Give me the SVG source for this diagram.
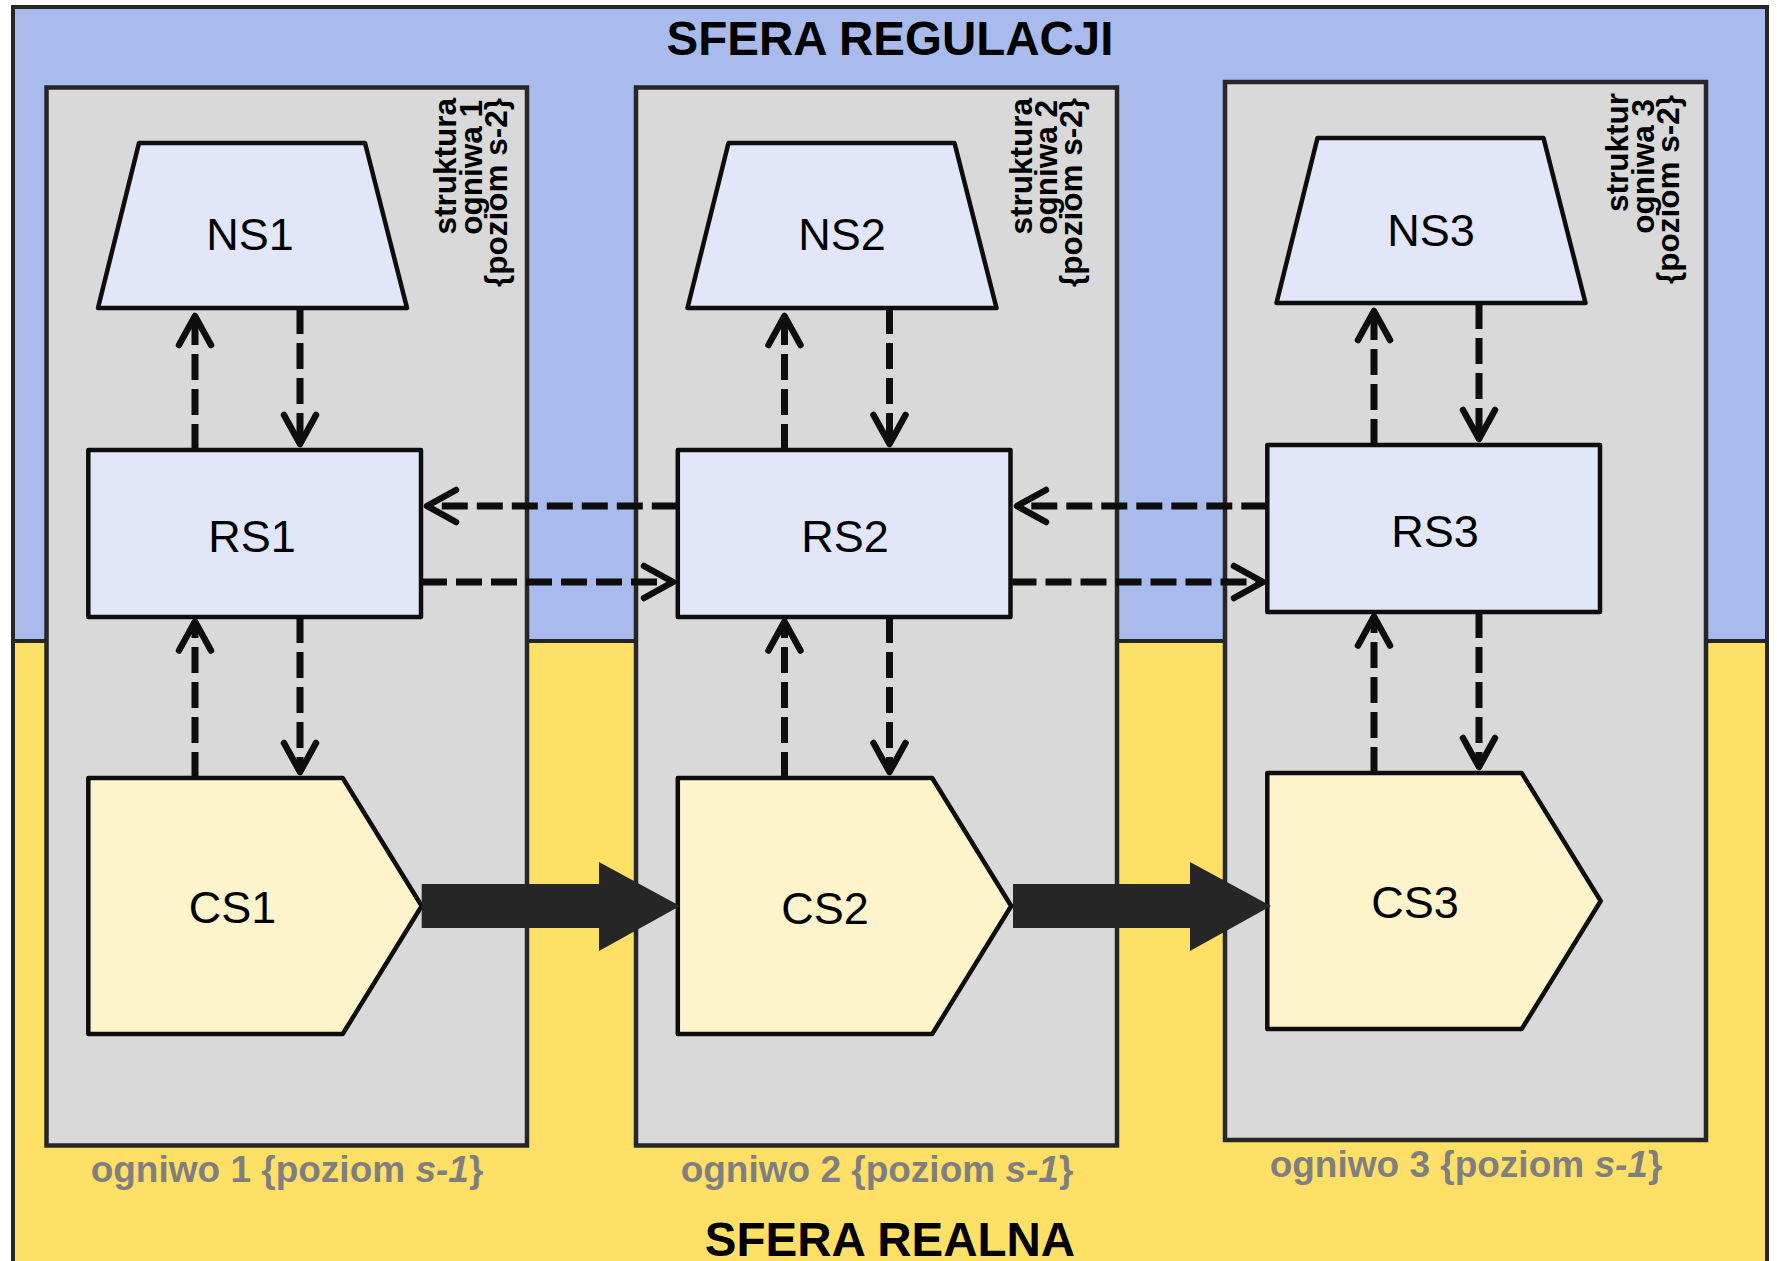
<svg xmlns="http://www.w3.org/2000/svg" width="1777" height="1261" viewBox="0 0 1777 1261">
<defs>
<style>
.box{fill:#d9d9d9;stroke:#262626;stroke-width:4.5}
.ns{fill:#e1e7f8;stroke:#0d0d0d;stroke-width:4.5;stroke-linejoin:round}
.cs{fill:#fef4cc;stroke:#0d0d0d;stroke-width:4.5;stroke-linejoin:round}
.lbl{font-family:"Liberation Sans",Arial,sans-serif;font-size:45px;fill:#000;text-anchor:middle}
.title{font-family:"Liberation Sans",Arial,sans-serif;font-size:47.5px;font-weight:bold;fill:#000;text-anchor:middle}
.og{font-family:"Liberation Sans",Arial,sans-serif;font-size:37px;font-weight:bold;fill:#7f7f7f;text-anchor:middle}
.vt{font-family:"Liberation Sans",Arial,sans-serif;font-size:31.5px;font-weight:bold;fill:#000;text-anchor:end}
.dash{fill:none;stroke:#0d0d0d;stroke-width:7;stroke-dasharray:26 9;marker-end:url(#open)}
.fat{fill:#262626}
</style>
<marker id="open" markerUnits="userSpaceOnUse" viewBox="-40 -25 50 50" refX="0" refY="0" markerWidth="50" markerHeight="50" orient="auto" overflow="visible">
<path d="M -29 -16 L 0 0 L -29 16" fill="none" stroke="#0d0d0d" stroke-width="6.5" stroke-linecap="round" stroke-linejoin="round"/>
</marker>
</defs>

<g id="background">
<rect x="13" y="7" width="1754" height="634" fill="#a9bbec" stroke="#262626" stroke-width="4"/>
<rect x="13" y="641" width="1754" height="700" fill="#ffe066" stroke="#262626" stroke-width="4"/>
<line x1="13" y1="641" x2="1767" y2="641" stroke="#262626" stroke-width="1.5"/>
<text class="title" x="890" y="54.5">SFERA REGULACJI</text>
<text class="title" x="890" y="1256">SFERA REALNA</text>
</g>

<g id="ogniwo1">
<rect class="box" x="46.5" y="87.5" width="480.5" height="1058"/>
<text class="vt" transform="rotate(-90)"><tspan x="-98" y="456">struktura</tspan><tspan x="-100" y="481.5">ogniwa 1</tspan><tspan x="-98" y="506.5">{poziom  s-2}</tspan></text>
<text class="og" x="287" y="1182">ogniwo 1 {poziom <tspan font-style="italic">s-1</tspan>}</text>
</g>
<g id="ogniwo2">
<rect class="box" x="636" y="87.5" width="481" height="1058"/>
<text class="vt" transform="rotate(-90)"><tspan x="-98" y="1031.5">struktura</tspan><tspan x="-100" y="1057">ogniwa 2</tspan><tspan x="-98" y="1082">{poziom  s-2}</tspan></text>
<text class="og" x="877" y="1182">ogniwo 2 {poziom <tspan font-style="italic">s-1</tspan>}</text>
</g>
<g id="ogniwo3">
<rect class="box" x="1225" y="82" width="481" height="1058"/>
<text class="vt" transform="rotate(-90)"><tspan x="-93" y="1628">struktur</tspan><tspan x="-99" y="1653.5">ogniwa 3</tspan><tspan x="-95" y="1678.5">{poziom  s-2}</tspan></text>
<text class="og" x="1466" y="1177">ogniwo 3 {poziom <tspan font-style="italic">s-1</tspan>}</text>
</g>

<g id="NS1"><polygon class="ns" points="139,143 365,143 407,308 98,308"/><text class="lbl" x="250" y="250">NS1</text></g>
<g id="NS2"><polygon class="ns" points="728.5,143 954.5,143 996.5,308 687.5,308"/><text class="lbl" x="842" y="250">NS2</text></g>
<g id="NS3"><polygon class="ns" points="1317.5,138 1543.5,138 1585.5,303 1276.5,303"/><text class="lbl" x="1431" y="246">NS3</text></g>

<g id="RS1"><rect class="ns" x="88.3" y="450" width="332.7" height="167"/><text class="lbl" x="252" y="551.7">RS1</text></g>
<g id="RS2"><rect class="ns" x="677.8" y="450" width="332.7" height="167"/><text class="lbl" x="845" y="551.7">RS2</text></g>
<g id="RS3"><rect class="ns" x="1267.3" y="445" width="332.7" height="167"/><text class="lbl" x="1435" y="547">RS3</text></g>

<g id="CS1"><polygon class="cs" points="88.3,778 342.7,778 421.7,906 342.7,1034 88.3,1034"/><text class="lbl" x="232.5" y="923">CS1</text></g>
<g id="CS2"><polygon class="cs" points="677.8,778 932.2,778 1011.2,906 932.2,1034 677.8,1034"/><text class="lbl" x="825" y="924">CS2</text></g>
<g id="CS3"><polygon class="cs" points="1267.3,773 1521.7,773 1600.7,901 1521.7,1029 1267.3,1029"/><text class="lbl" x="1415" y="918">CS3</text></g>

<g id="connectors">
<path class="dash" d="M300 308 V444"/>
<path class="dash" d="M195 450 V316"/>
<path class="dash" d="M300 617 V772"/>
<path class="dash" d="M195 778 V621.5"/>
<path class="dash" d="M889.5 308 V444"/>
<path class="dash" d="M784.5 450 V316"/>
<path class="dash" d="M889.5 617 V772"/>
<path class="dash" d="M784.5 778 V621.5"/>
<path class="dash" d="M1479 303 V439"/>
<path class="dash" d="M1374 445 V311"/>
<path class="dash" d="M1479 612 V767"/>
<path class="dash" d="M1374 773 V616.5"/>
<path class="dash" d="M677.8 506 H427"/>
<path class="dash" d="M421 582 H673"/>
<path class="dash" d="M1267.3 506 H1017"/>
<path class="dash" d="M1010.5 582 H1263"/>
<polygon class="fat" points="421.7,884 599,884 599,862 680,906 599,951 599,928 421.7,928"/>
<polygon class="fat" points="1013,884 1190,884 1190,862 1271,906 1190,951 1190,928 1013,928"/>
</g>
</svg>
